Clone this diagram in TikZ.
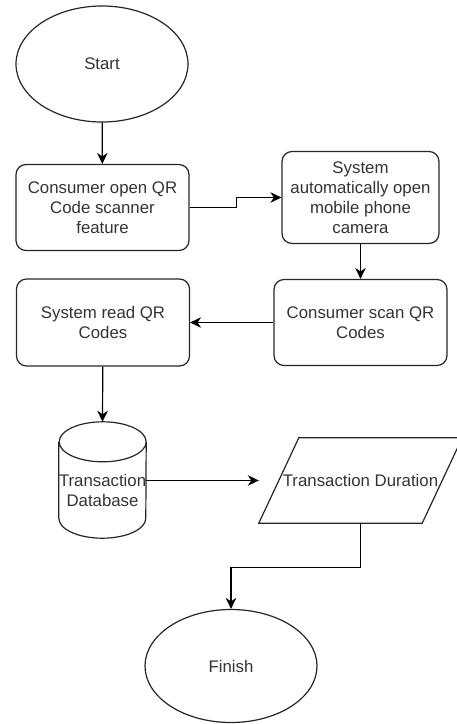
\documentclass[tikz,border=0pt]{standalone}
\usepackage{fontspec}
\setmainfont{Liberation Sans}
\usetikzlibrary{positioning, arrows.meta, shapes.geometric}

\begin{document}
\begin{tikzpicture}[
    x=1pt, y=1pt,
    >=Stealth,
    outline/.style={draw=black!85, line width=1.2pt},
    base/.style={align=center, font=\fontsize{16.8}{20}\selectfont, text=black!80},
    terminal/.style={base, outline, ellipse, inner sep=0pt,
                     minimum width=172pt, minimum height=116pt},
    box/.style={base, outline, rectangle, rounded corners=10pt, inner sep=0pt,
                minimum width=173pt, minimum height=86pt},
    arrow/.style={-{Stealth[length=11pt, width=10.5pt, inset=3.5pt]}, line width=1.2pt}
]
  \useasboundingbox (0,0) rectangle (456,-724);

  % --- Top part ---
  \node[terminal] (start) at (102,-64) {Start};
  \node[box] (open) at (102.5,-207.5) {Consumer open QR\\Code scanner\\feature};
  \node[box, minimum width=157pt, minimum height=92pt] (camera) at (360.5,-197.5)
    {System\\automatically open\\mobile phone\\camera};
  \node[box] (scan) at (360.5,-322.5) {Consumer scan QR\\Codes};
  \node[box, minimum height=87pt] (read) at (103,-322.5) {System read QR\\Codes};

  \draw[arrow] (start) -- (open);
  \draw[arrow] (open.east) -- ++(47,0) |- (camera.west);
  \draw[arrow] (camera) -- (scan);
  \draw[arrow] (scan) -- (read);

  % --- Database and output ---
  \node[base, text width=87pt, minimum height=96pt, inner sep=0pt] (db) at (102.5,-490)
    {Transaction\\Database};
  \draw[outline] (db.north west) -- ([yshift=20pt]db.south west)
    arc[start angle=180, end angle=360, x radius=43.5pt, y radius=20pt]
    -- (db.north east)
    arc[start angle=0, end angle=360, x radius=43.5pt, y radius=20pt];

  \node[base, minimum width=203pt, minimum height=85pt, inner sep=0pt] (io) at (360.5,-480.5)
    {Transaction Duration};
  \draw[outline] (io.south west) -- ([xshift=40pt]io.north west) -- (io.north east)
    -- ([xshift=-40pt]io.south east) -- cycle;

  \node[terminal, minimum height=113pt] (finish) at (231,-666) {Finish};

  \draw[arrow] (read) -- ([yshift=20pt]db.north);
  \draw[arrow] (io.west -| db.east) -- (io.west);
  \draw[arrow] (io.south) -- ++(0,-44) -| (finish.north);

\end{tikzpicture}
\end{document}
